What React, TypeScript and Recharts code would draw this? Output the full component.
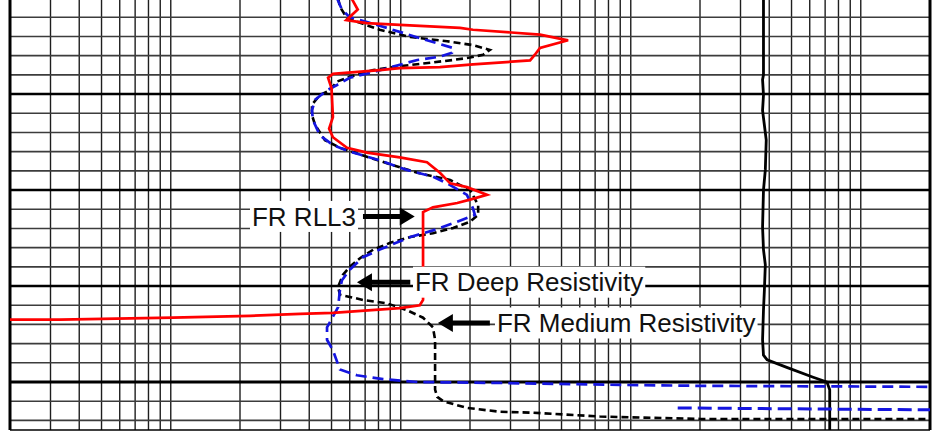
import React from "react";
import {
  ScatterChart,
  Scatter,
  XAxis,
  YAxis,
  ReferenceLine,
  ReferenceDot,
} from "recharts";

// resistivity track: log scale, ohm-m; depth in ft
const RES_DOMAIN: [number, number] = [0.2, 2000];
const AUX_DOMAIN: [number, number] = [0, 100];
const DEPTH_DOMAIN: [number, number] = [5000.2, 5045];

const resGrid = [
  0.3, 0.4, 0.5, 0.6, 0.7, 0.8, 0.9, 1, 2, 3, 4, 5, 6, 7, 8, 9, 10, 20, 30, 40,
  50, 60, 70, 80, 90, 100, 200, 300, 400, 500, 600, 700, 800, 900, 1000,
];
const depthMinor = [
  5002, 5004, 5006, 5008, 5012, 5014, 5016, 5018, 5022, 5024, 5026, 5028,
  5032, 5034, 5036, 5038, 5042, 5044,
];
const depthMajor = [5010, 5020, 5030, 5040];

// [resistivity, depth]
const rll3: [number, number][] = [
  [6.1, 5000.0], [6.5, 5001.2], [5.8, 5002.3], [7.1, 5002.6], [9.9, 5002.8],
  [18.1, 5003.1], [20.6, 5003.3], [40.3, 5003.8], [53.4, 5004.4], [40.3, 5005.2],
  [38.3, 5005.9], [36.5, 5006.5], [20.6, 5006.9], [14.8, 5007.2], [9.9, 5007.3],
  [8.1, 5007.5], [5.07, 5007.9], [4.83, 5008.3], [5.0, 5009.4], [5.07, 5012.4],
  [4.88, 5013.6], [5.07, 5014.5], [5.84, 5015.6], [7.13, 5016.1], [9.9, 5016.6],
  [13.0, 5017.1], [14.8, 5018.2], [16.4, 5019.3], [19.4, 5019.7], [23.7, 5020.5],
  [20.0, 5021.0], [17.6, 5021.35], [13.8, 5021.8], [12.5, 5022.3], [12.5, 5031.45],
  [12.1, 5032.0], [9.9, 5032.3], [5.07, 5032.8], [3.65, 5032.9], [2.21, 5033.1],
  [1.02, 5033.3], [0.33, 5033.5], [0.2, 5033.5],
];

const deep: [number, number][] = [
  [5.28, 5000.0], [5.55, 5001.2], [6.0, 5002.0], [7.9, 5002.8], [13.0, 5004.4],
  [16.9, 5005.2], [16.7, 5005.7], [14.8, 5006.1], [11.8, 5006.45], [7.9, 5007.6],
  [6.0, 5008.3], [5.28, 5009.05], [4.78, 5009.6], [4.24, 5010.6], [4.11, 5011.7],
  [4.15, 5012.7], [4.45, 5014.3], [5.07, 5015.3], [6.0, 5016.0], [8.1, 5016.9],
  [10.6, 5017.9], [13.8, 5018.6], [15.9, 5019.3], [19.4, 5020.5], [20.6, 5021.9],
  [21.0, 5022.6], [17.6, 5023.3], [13.8, 5024.2], [11.0, 5024.9], [8.1, 5026.2],
  [6.85, 5027.0], [6.0, 5028.3], [5.55, 5029.4], [5.44, 5030.4], [5.34, 5032.2],
  [4.78, 5034.3], [4.78, 5035.6], [5.07, 5036.7], [5.44, 5038.7], [6.45, 5039.3],
  [8.37, 5039.7], [11.8, 5040.0], [27.0, 5040.1], [89.8, 5040.3], [200, 5040.4],
  [2000, 5040.5],
];

const deepWrap: [number, number][] = [
  [160, 5042.7], [2000, 5042.9],
];

const medium: [number, number][] = [
  [5.34, 5000.0], [5.44, 5000.9], [5.84, 5002.1], [8.1, 5003.3], [11.0, 5004.05],
  [15.9, 5004.5], [20.6, 5004.9], [24.4, 5005.4], [22.8, 5005.9], [20.0, 5006.2],
  [16.9, 5006.45], [13.8, 5006.7], [9.9, 5007.1], [7.6, 5007.5], [6.0, 5008.2],
  [5.28, 5008.7], [4.92, 5009.6], [4.45, 5010.1], [4.11, 5011.1], [4.11, 5012.2],
  [4.24, 5013.2], [4.68, 5014.8], [5.44, 5015.6], [6.65, 5016.3], [8.7, 5017.2],
  [11.8, 5018.2], [16.4, 5018.95], [20.0, 5020.0], [21.7, 5021.55], [21.7, 5022.6],
  [20.0, 5023.3], [16.9, 5023.95], [13.8, 5024.5], [11.0, 5024.9], [9.0, 5025.5],
  [7.6, 5026.2], [6.65, 5027.1], [6.0, 5028.0], [5.6, 5028.85], [5.34, 5030.1],
  [5.44, 5030.9], [6.85, 5031.45], [8.7, 5031.8], [10.6, 5032.5], [12.5, 5033.3],
  [13.8, 5034.3], [14.1, 5035.6], [14.1, 5040.8], [14.4, 5041.55], [15.3, 5042.0],
  [19.4, 5042.7], [27.0, 5043.1], [37.6, 5043.2], [73.5, 5043.6], [200, 5043.85],
  [2000, 5043.85],
];

// second track curve on its own linear scale
const aux: [number, number][] = [
  [81.9, 5000.0], [81.9, 5008.0], [81.8, 5008.5], [81.9, 5010.1], [81.8, 5011.7],
  [82.2, 5014.8], [82.1, 5017.9], [81.9, 5020.0], [81.8, 5023.85], [81.9, 5026.2],
  [82.1, 5027.8], [82.0, 5030.4], [81.9, 5032.5], [81.8, 5035.6], [81.9, 5037.2],
  [82.3, 5037.7], [84.5, 5038.5], [87.3, 5039.5], [88.8, 5040.0], [89.1, 5040.8],
  [89.1, 5045.2],
];

const labels = [
  { text: "FR RLL3", x: 6.39, y: 5022.75, anchor: "end" },
  { text: "FR Deep Resistivity", x: 11.53, y: 5029.6, anchor: "start" },
  { text: "FR Medium Resistivity", x: 26.2, y: 5033.85, anchor: "start" },
];

// tail -> tip
const arrows = [
  { from: 6.85, to: 11.5, y: 5022.75 },
  { from: 11.0, to: 6.45, y: 5029.6 },
  { from: 24.4, to: 14.5, y: 5033.85 },
];

const FONT = "'Liberation Sans', Arial, sans-serif";
const FONT_SIZE = 26;

const toPts = (rows: [number, number][]) => rows.map(([x, y]) => ({ x, y }));

let ctx: CanvasRenderingContext2D | null = null;
function textWidth(text: string) {
  if (!ctx) ctx = document.createElement("canvas").getContext("2d");
  if (!ctx) return text.length * FONT_SIZE * 0.5;
  ctx.font = `${FONT_SIZE}px ${FONT}`;
  return ctx.measureText(text).width;
}

const noDot = () => <g />;

function Arrow(props: any) {
  const { x1, y1, x2 } = props;
  const dir = x2 > x1 ? 1 : -1;
  const hb = x2 - dir * 15;
  const pts = [
    [x1, y1 - 2.5],
    [hb, y1 - 2.5],
    [hb, y1 - 9],
    [x2, y1],
    [hb, y1 + 9],
    [hb, y1 + 2.5],
    [x1, y1 + 2.5],
  ]
    .map((p) => p.join(","))
    .join(" ");
  return <polygon points={pts} fill="#000" />;
}

function makeLabel(text: string, anchor: string) {
  return (props: any) => {
    const { cx, cy } = props;
    const w = textWidth(text);
    const left = anchor === "end" ? cx - w : cx;
    return (
      <g>
        <rect x={left - 2} y={cy - 15.5} width={w + 4} height={31} fill="#fff" />
        <text
          x={cx}
          y={cy + FONT_SIZE * 0.358}
          textAnchor={anchor as any}
          fontFamily={FONT}
          fontSize={FONT_SIZE}
          fill="#111"
        >
          {text}
        </text>
      </g>
    );
  };
}

export default function App() {
  return (
    <div
      style={{
        position: "absolute",
        left: 0,
        top: 0,
        width: 939,
        height: 433,
        background: "#fff",
        overflow: "hidden",
      }}
    >
      <ScatterChart
        width={939}
        height={433}
        margin={{ top: 0, right: 9, bottom: 3, left: 10 }}
      >
        <XAxis
          xAxisId="res"
          type="number"
          dataKey="x"
          scale="log"
          domain={RES_DOMAIN}
          allowDataOverflow
          hide
        />
        <XAxis
          xAxisId="aux"
          type="number"
          dataKey="x"
          domain={AUX_DOMAIN}
          allowDataOverflow
          hide
        />
        <YAxis
          type="number"
          dataKey="y"
          domain={DEPTH_DOMAIN}
          reversed
          allowDataOverflow
          hide
        />

        {resGrid.map((v) => (
          <ReferenceLine
            key={"v" + v}
            xAxisId="res"
            x={v}
            stroke="#1e1e1e"
            strokeWidth={1.4}
            zIndex={-100}
          />
        ))}
        {depthMinor.map((d) => (
          <ReferenceLine
            key={"h" + d}
            xAxisId="res"
            y={d}
            stroke="#3c3c3c"
            strokeWidth={1.6}
            zIndex={-100}
          />
        ))}
        {depthMajor.map((d) => (
          <ReferenceLine
            key={"m" + d}
            xAxisId="res"
            y={d}
            stroke="#000"
            strokeWidth={d === 5040 ? 3 : 2.5}
            zIndex={-90}
          />
        ))}
        <ReferenceLine xAxisId="res" x={RES_DOMAIN[0]} stroke="#000" strokeWidth={3} ifOverflow="visible" zIndex={-90} />
        <ReferenceLine xAxisId="res" x={RES_DOMAIN[1]} stroke="#000" strokeWidth={3} ifOverflow="visible" zIndex={-90} />
        <ReferenceLine xAxisId="res" y={DEPTH_DOMAIN[1]} stroke="#000" strokeWidth={1.5} ifOverflow="visible" zIndex={-90} />

        <Scatter
          xAxisId="aux"
          data={toPts(aux)}
          shape={noDot}
          line={{ stroke: "#000", strokeWidth: 2.8 }}
          lineType="joint"
          isAnimationActive={false}
        />
        <Scatter
          xAxisId="res"
          data={toPts(medium)}
          shape={noDot}
          line={{ stroke: "#000", strokeWidth: 2.6, strokeDasharray: "7 4" }}
          lineType="joint"
          isAnimationActive={false}
        />
        <Scatter
          xAxisId="res"
          data={toPts(deep)}
          shape={noDot}
          line={{ stroke: "#1515e0", strokeWidth: 2.7, strokeDasharray: "11 6" }}
          lineType="joint"
          isAnimationActive={false}
        />
        <Scatter
          xAxisId="res"
          data={toPts(deepWrap)}
          shape={noDot}
          line={{ stroke: "#1515e0", strokeWidth: 3, strokeDasharray: "14 6" }}
          lineType="joint"
          isAnimationActive={false}
        />
        <Scatter
          xAxisId="res"
          data={toPts(rll3)}
          shape={noDot}
          line={{ stroke: "#ff0000", strokeWidth: 2.7 }}
          lineType="joint"
          isAnimationActive={false}
        />

        {labels.map((l) => (
          <ReferenceDot
            key={l.text}
            xAxisId="res"
            x={l.x}
            y={l.y}
            r={0}
            shape={makeLabel(l.text, l.anchor)}
            zIndex={2000}
          />
        ))}
        {arrows.map((a, i) => (
          <ReferenceLine
            key={"a" + i}
            xAxisId="res"
            segment={[
              { x: a.from, y: a.y },
              { x: a.to, y: a.y },
            ]}
            shape={Arrow}
            zIndex={2000}
          />
        ))}
      </ScatterChart>
    </div>
  );
}
